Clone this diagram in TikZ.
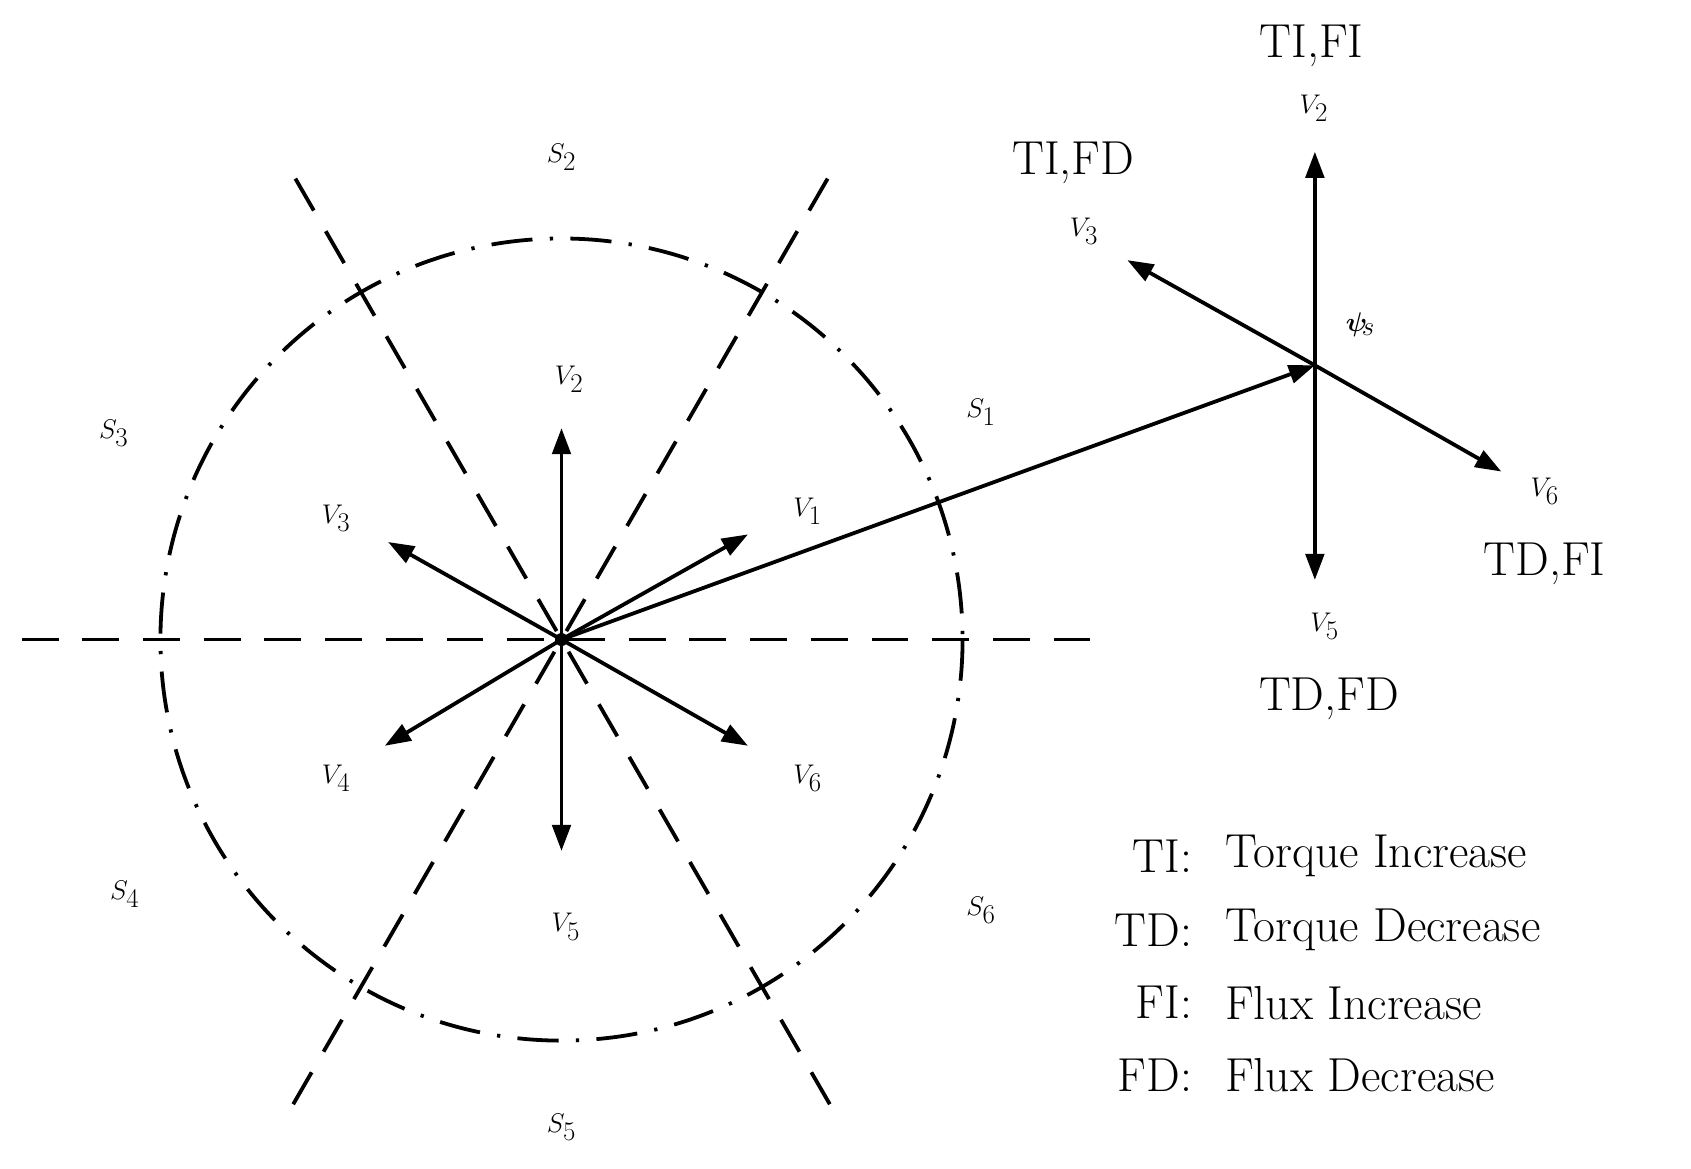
\documentclass[tikz,border=0pt]{standalone}
\usepackage{amsmath,bm}
\usetikzlibrary{arrows.meta,calc}
\begin{document}
\begin{tikzpicture}[x=1pt,y=-1pt,
  vec/.style={line width=3.5pt,-{Triangle[length=24pt,width=17pt]}},
  dsh/.style={line width=3.5pt,dash pattern=on 34pt off 22pt},
  dd/.style={line width=3.5pt,dash pattern=on 38pt off 16pt on 3pt off 16pt},
  lab/.style={font=\fontsize{44}{52}\selectfont,inner sep=0pt}]
\useasboundingbox (0,0) rectangle (1560,1078);
\coordinate (O) at (518,590);
\draw[dd] (O) circle (370);
\coordinate (h1) at (20,590); \coordinate (h2) at (1015,590);
\draw[dsh] (h1) -- (h2);
\coordinate (a1) at ($(O)+(120:495)$); \coordinate (a2) at ($(O)+(-60:495)$);
\coordinate (b1) at ($(O)+(60:495)$); \coordinate (b2) at ($(O)+(-120:495)$);
\draw[dsh] (a1) -- (a2);
\draw[dsh] (b1) -- (b2);
% vectors at center
\coordinate (v1) at (690,493); \coordinate (v2) at (518,395);
\coordinate (v3) at (358,500); \coordinate (v4) at (355,688);
\coordinate (v5) at (518,785); \coordinate (v6) at (690,688);
\foreach \v in {v1,v2,v3,v4,v5,v6} \draw[vec] (O) -- (\v);
\fill (O) circle (6pt);
\coordinate (P) at (1213,337);
\draw[vec] (O) -- (P);
\coordinate (p2) at (1213,140); \coordinate (p5) at (1213,535);
\coordinate (p3) at (1040,240); \coordinate (p6) at (1385,435);
\foreach \v in {p2,p3,p5,p6} \draw[vec] (P) -- (\v);
% labels
\node[lab] (lv2) at (525,350) {$V_2$};
\node[lab] (lv3) at (310,478) {$V_3$};
\node[lab] (lv1) at (745,472) {$V_1$};
\node[lab] (lv4) at (310,718) {$V_4$};
\node[lab] (lv6) at (745,718) {$V_6$};
\node[lab] (lv5) at (522,855) {$V_5$};
\node[lab] (s2) at (518,145) {$S_2$};
\node[lab] (s1) at (905,380) {$S_1$};
\node[lab] (s3) at (105,400) {$S_3$};
\node[lab] (s4) at (115,825) {$S_4$};
\node[lab] (s6) at (905,840) {$S_6$};
\node[lab] (s5) at (518,1040) {$S_5$};
\node[lab] (t1) at (1210,42) {TI,FI};
\node[lab] (rv2) at (1212,100) {$V_2$};
\node[lab] (t2) at (990,150) {TI,FD};
\node[lab] (rv3) at (1000,213) {$V_3$};
\node[lab] (psi) at (1255,300) {$\bm{\psi}_{\!s}$};
\node[lab] (rv6) at (1425,453) {$V_6$};
\node[lab] (t6) at (1425,520) {TD,FI};
\node[lab] (rv5) at (1222,578) {$V_5$};
\node[lab] (t5) at (1226,645) {TD,FD};
\foreach \y/\a/\b in {790/TI:/Torque Increase,858/TD:/Torque Decrease,925/FI:/Flux Increase,992/FD:/Flux Decrease}{
  \node[lab,anchor=east] at (1100,\y) {\a};
  \node[lab,anchor=west] at (1130,\y) {\b};
}
\end{tikzpicture}
\end{document}
